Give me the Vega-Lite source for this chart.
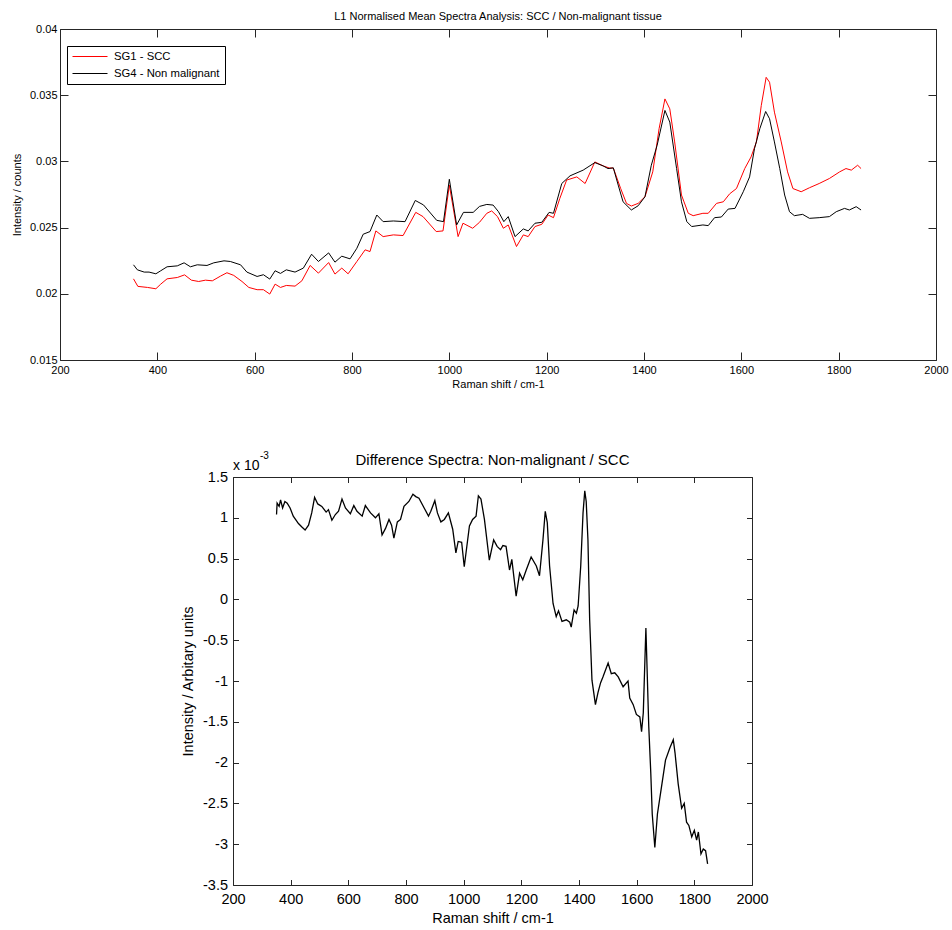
{
  "$schema": "https://vega.github.io/schema/vega-lite/v6.json",
  "background": "white",
  "padding": {"left": 11, "top": 11, "right": 0, "bottom": 0},
  "config": {
    "font": "Liberation Sans",
    "view": {"stroke": null},
    "axis": {"grid": false, "labelColor": "#000", "titleColor": "#000", "titleFontWeight": "normal", "domainColor": "#262626", "tickColor": "#262626", "tickWidth": 1, "labelFlush": false, "labelOverlap": false},
    "title": {"color": "#000", "fontWeight": "normal", "anchor": "middle"}
  },
  "datasets": {
    "spectra": [
      {"shift": 351, "series": "SG1 - SCC", "intensity": 0.02113},
      {"shift": 360, "series": "SG1 - SCC", "intensity": 0.02056},
      {"shift": 380, "series": "SG1 - SCC", "intensity": 0.02048},
      {"shift": 397, "series": "SG1 - SCC", "intensity": 0.02038},
      {"shift": 407, "series": "SG1 - SCC", "intensity": 0.02073},
      {"shift": 420, "series": "SG1 - SCC", "intensity": 0.02113},
      {"shift": 441, "series": "SG1 - SCC", "intensity": 0.02123},
      {"shift": 456, "series": "SG1 - SCC", "intensity": 0.02143},
      {"shift": 470, "series": "SG1 - SCC", "intensity": 0.02103},
      {"shift": 485, "series": "SG1 - SCC", "intensity": 0.02093},
      {"shift": 499, "series": "SG1 - SCC", "intensity": 0.02103},
      {"shift": 513, "series": "SG1 - SCC", "intensity": 0.02098},
      {"shift": 530, "series": "SG1 - SCC", "intensity": 0.02134},
      {"shift": 543, "series": "SG1 - SCC", "intensity": 0.02159},
      {"shift": 557, "series": "SG1 - SCC", "intensity": 0.02139},
      {"shift": 574, "series": "SG1 - SCC", "intensity": 0.02093},
      {"shift": 588, "series": "SG1 - SCC", "intensity": 0.02048},
      {"shift": 605, "series": "SG1 - SCC", "intensity": 0.02031},
      {"shift": 618, "series": "SG1 - SCC", "intensity": 0.02031},
      {"shift": 631, "series": "SG1 - SCC", "intensity": 0.01998},
      {"shift": 642, "series": "SG1 - SCC", "intensity": 0.02073},
      {"shift": 653, "series": "SG1 - SCC", "intensity": 0.02048},
      {"shift": 665, "series": "SG1 - SCC", "intensity": 0.02063},
      {"shift": 683, "series": "SG1 - SCC", "intensity": 0.02058},
      {"shift": 697, "series": "SG1 - SCC", "intensity": 0.02098},
      {"shift": 714, "series": "SG1 - SCC", "intensity": 0.02214},
      {"shift": 731, "series": "SG1 - SCC", "intensity": 0.02156},
      {"shift": 752, "series": "SG1 - SCC", "intensity": 0.02236},
      {"shift": 765, "series": "SG1 - SCC", "intensity": 0.02149},
      {"shift": 779, "series": "SG1 - SCC", "intensity": 0.02194},
      {"shift": 792, "series": "SG1 - SCC", "intensity": 0.02151},
      {"shift": 810, "series": "SG1 - SCC", "intensity": 0.02244},
      {"shift": 827, "series": "SG1 - SCC", "intensity": 0.02332},
      {"shift": 837, "series": "SG1 - SCC", "intensity": 0.02319},
      {"shift": 849, "series": "SG1 - SCC", "intensity": 0.02475},
      {"shift": 864, "series": "SG1 - SCC", "intensity": 0.02432},
      {"shift": 885, "series": "SG1 - SCC", "intensity": 0.02445},
      {"shift": 905, "series": "SG1 - SCC", "intensity": 0.0244},
      {"shift": 931, "series": "SG1 - SCC", "intensity": 0.02615},
      {"shift": 946, "series": "SG1 - SCC", "intensity": 0.02583},
      {"shift": 973, "series": "SG1 - SCC", "intensity": 0.0247},
      {"shift": 987, "series": "SG1 - SCC", "intensity": 0.02475},
      {"shift": 1000, "series": "SG1 - SCC", "intensity": 0.02821},
      {"shift": 1018, "series": "SG1 - SCC", "intensity": 0.02432},
      {"shift": 1028, "series": "SG1 - SCC", "intensity": 0.02533},
      {"shift": 1048, "series": "SG1 - SCC", "intensity": 0.02495},
      {"shift": 1062, "series": "SG1 - SCC", "intensity": 0.0254},
      {"shift": 1077, "series": "SG1 - SCC", "intensity": 0.02608},
      {"shift": 1087, "series": "SG1 - SCC", "intensity": 0.02626},
      {"shift": 1099, "series": "SG1 - SCC", "intensity": 0.02583},
      {"shift": 1111, "series": "SG1 - SCC", "intensity": 0.02495},
      {"shift": 1121, "series": "SG1 - SCC", "intensity": 0.0252},
      {"shift": 1138, "series": "SG1 - SCC", "intensity": 0.02357},
      {"shift": 1152, "series": "SG1 - SCC", "intensity": 0.02445},
      {"shift": 1162, "series": "SG1 - SCC", "intensity": 0.02432},
      {"shift": 1176, "series": "SG1 - SCC", "intensity": 0.02508},
      {"shift": 1190, "series": "SG1 - SCC", "intensity": 0.02525},
      {"shift": 1203, "series": "SG1 - SCC", "intensity": 0.02595},
      {"shift": 1214, "series": "SG1 - SCC", "intensity": 0.02575},
      {"shift": 1227, "series": "SG1 - SCC", "intensity": 0.0272},
      {"shift": 1241, "series": "SG1 - SCC", "intensity": 0.02859},
      {"shift": 1262, "series": "SG1 - SCC", "intensity": 0.02883},
      {"shift": 1279, "series": "SG1 - SCC", "intensity": 0.02833},
      {"shift": 1299, "series": "SG1 - SCC", "intensity": 0.02996},
      {"shift": 1316, "series": "SG1 - SCC", "intensity": 0.02966},
      {"shift": 1329, "series": "SG1 - SCC", "intensity": 0.0295},
      {"shift": 1337, "series": "SG1 - SCC", "intensity": 0.0295},
      {"shift": 1352, "series": "SG1 - SCC", "intensity": 0.02796},
      {"shift": 1364, "series": "SG1 - SCC", "intensity": 0.02683},
      {"shift": 1374, "series": "SG1 - SCC", "intensity": 0.02663},
      {"shift": 1388, "series": "SG1 - SCC", "intensity": 0.02683},
      {"shift": 1402, "series": "SG1 - SCC", "intensity": 0.02733},
      {"shift": 1418, "series": "SG1 - SCC", "intensity": 0.02921},
      {"shift": 1431, "series": "SG1 - SCC", "intensity": 0.03247},
      {"shift": 1443, "series": "SG1 - SCC", "intensity": 0.03472},
      {"shift": 1453, "series": "SG1 - SCC", "intensity": 0.03397},
      {"shift": 1463, "series": "SG1 - SCC", "intensity": 0.03147},
      {"shift": 1477, "series": "SG1 - SCC", "intensity": 0.02746},
      {"shift": 1491, "series": "SG1 - SCC", "intensity": 0.02608},
      {"shift": 1501, "series": "SG1 - SCC", "intensity": 0.0259},
      {"shift": 1521, "series": "SG1 - SCC", "intensity": 0.02608},
      {"shift": 1532, "series": "SG1 - SCC", "intensity": 0.02608},
      {"shift": 1549, "series": "SG1 - SCC", "intensity": 0.02683},
      {"shift": 1563, "series": "SG1 - SCC", "intensity": 0.02695},
      {"shift": 1576, "series": "SG1 - SCC", "intensity": 0.02755},
      {"shift": 1590, "series": "SG1 - SCC", "intensity": 0.02795},
      {"shift": 1607, "series": "SG1 - SCC", "intensity": 0.02946},
      {"shift": 1620, "series": "SG1 - SCC", "intensity": 0.03034},
      {"shift": 1631, "series": "SG1 - SCC", "intensity": 0.03147},
      {"shift": 1641, "series": "SG1 - SCC", "intensity": 0.03423},
      {"shift": 1651, "series": "SG1 - SCC", "intensity": 0.03635},
      {"shift": 1658, "series": "SG1 - SCC", "intensity": 0.03598},
      {"shift": 1668, "series": "SG1 - SCC", "intensity": 0.03372},
      {"shift": 1682, "series": "SG1 - SCC", "intensity": 0.03147},
      {"shift": 1695, "series": "SG1 - SCC", "intensity": 0.02921},
      {"shift": 1706, "series": "SG1 - SCC", "intensity": 0.02795},
      {"shift": 1723, "series": "SG1 - SCC", "intensity": 0.02771},
      {"shift": 1740, "series": "SG1 - SCC", "intensity": 0.02801},
      {"shift": 1760, "series": "SG1 - SCC", "intensity": 0.02833},
      {"shift": 1781, "series": "SG1 - SCC", "intensity": 0.02871},
      {"shift": 1802, "series": "SG1 - SCC", "intensity": 0.02921},
      {"shift": 1815, "series": "SG1 - SCC", "intensity": 0.02946},
      {"shift": 1826, "series": "SG1 - SCC", "intensity": 0.02934},
      {"shift": 1839, "series": "SG1 - SCC", "intensity": 0.02971},
      {"shift": 1846, "series": "SG1 - SCC", "intensity": 0.02946},
      {"shift": 351, "series": "SG4 - Non malignant", "intensity": 0.02219},
      {"shift": 359, "series": "SG4 - Non malignant", "intensity": 0.02181},
      {"shift": 373, "series": "SG4 - Non malignant", "intensity": 0.02164},
      {"shift": 383, "series": "SG4 - Non malignant", "intensity": 0.02164},
      {"shift": 397, "series": "SG4 - Non malignant", "intensity": 0.02151},
      {"shift": 407, "series": "SG4 - Non malignant", "intensity": 0.02174},
      {"shift": 420, "series": "SG4 - Non malignant", "intensity": 0.02204},
      {"shift": 441, "series": "SG4 - Non malignant", "intensity": 0.02211},
      {"shift": 455, "series": "SG4 - Non malignant", "intensity": 0.02234},
      {"shift": 468, "series": "SG4 - Non malignant", "intensity": 0.02204},
      {"shift": 482, "series": "SG4 - Non malignant", "intensity": 0.02219},
      {"shift": 502, "series": "SG4 - Non malignant", "intensity": 0.02214},
      {"shift": 516, "series": "SG4 - Non malignant", "intensity": 0.02234},
      {"shift": 537, "series": "SG4 - Non malignant", "intensity": 0.02249},
      {"shift": 550, "series": "SG4 - Non malignant", "intensity": 0.02244},
      {"shift": 571, "series": "SG4 - Non malignant", "intensity": 0.02219},
      {"shift": 584, "series": "SG4 - Non malignant", "intensity": 0.02164},
      {"shift": 605, "series": "SG4 - Non malignant", "intensity": 0.02131},
      {"shift": 618, "series": "SG4 - Non malignant", "intensity": 0.02144},
      {"shift": 631, "series": "SG4 - Non malignant", "intensity": 0.02111},
      {"shift": 642, "series": "SG4 - Non malignant", "intensity": 0.02174},
      {"shift": 653, "series": "SG4 - Non malignant", "intensity": 0.02154},
      {"shift": 665, "series": "SG4 - Non malignant", "intensity": 0.02181},
      {"shift": 683, "series": "SG4 - Non malignant", "intensity": 0.02164},
      {"shift": 700, "series": "SG4 - Non malignant", "intensity": 0.02194},
      {"shift": 717, "series": "SG4 - Non malignant", "intensity": 0.02299},
      {"shift": 731, "series": "SG4 - Non malignant", "intensity": 0.02244},
      {"shift": 752, "series": "SG4 - Non malignant", "intensity": 0.02309},
      {"shift": 765, "series": "SG4 - Non malignant", "intensity": 0.02239},
      {"shift": 779, "series": "SG4 - Non malignant", "intensity": 0.02284},
      {"shift": 796, "series": "SG4 - Non malignant", "intensity": 0.02264},
      {"shift": 810, "series": "SG4 - Non malignant", "intensity": 0.02344},
      {"shift": 823, "series": "SG4 - Non malignant", "intensity": 0.0245},
      {"shift": 837, "series": "SG4 - Non malignant", "intensity": 0.0247},
      {"shift": 851, "series": "SG4 - Non malignant", "intensity": 0.02595},
      {"shift": 864, "series": "SG4 - Non malignant", "intensity": 0.02545},
      {"shift": 885, "series": "SG4 - Non malignant", "intensity": 0.0255},
      {"shift": 909, "series": "SG4 - Non malignant", "intensity": 0.02545},
      {"shift": 930, "series": "SG4 - Non malignant", "intensity": 0.02705},
      {"shift": 947, "series": "SG4 - Non malignant", "intensity": 0.02671},
      {"shift": 974, "series": "SG4 - Non malignant", "intensity": 0.02555},
      {"shift": 988, "series": "SG4 - Non malignant", "intensity": 0.02545},
      {"shift": 1000, "series": "SG4 - Non malignant", "intensity": 0.02865},
      {"shift": 1015, "series": "SG4 - Non malignant", "intensity": 0.0252},
      {"shift": 1029, "series": "SG4 - Non malignant", "intensity": 0.02615},
      {"shift": 1049, "series": "SG4 - Non malignant", "intensity": 0.02615},
      {"shift": 1062, "series": "SG4 - Non malignant", "intensity": 0.0266},
      {"shift": 1077, "series": "SG4 - Non malignant", "intensity": 0.02675},
      {"shift": 1090, "series": "SG4 - Non malignant", "intensity": 0.0267},
      {"shift": 1101, "series": "SG4 - Non malignant", "intensity": 0.0262},
      {"shift": 1112, "series": "SG4 - Non malignant", "intensity": 0.02545},
      {"shift": 1121, "series": "SG4 - Non malignant", "intensity": 0.02583},
      {"shift": 1135, "series": "SG4 - Non malignant", "intensity": 0.02432},
      {"shift": 1152, "series": "SG4 - Non malignant", "intensity": 0.0249},
      {"shift": 1162, "series": "SG4 - Non malignant", "intensity": 0.02475},
      {"shift": 1176, "series": "SG4 - Non malignant", "intensity": 0.02533},
      {"shift": 1190, "series": "SG4 - Non malignant", "intensity": 0.0254},
      {"shift": 1205, "series": "SG4 - Non malignant", "intensity": 0.02615},
      {"shift": 1214, "series": "SG4 - Non malignant", "intensity": 0.02608},
      {"shift": 1231, "series": "SG4 - Non malignant", "intensity": 0.02833},
      {"shift": 1248, "series": "SG4 - Non malignant", "intensity": 0.02891},
      {"shift": 1275, "series": "SG4 - Non malignant", "intensity": 0.02934},
      {"shift": 1299, "series": "SG4 - Non malignant", "intensity": 0.02991},
      {"shift": 1316, "series": "SG4 - Non malignant", "intensity": 0.02966},
      {"shift": 1326, "series": "SG4 - Non malignant", "intensity": 0.02946},
      {"shift": 1337, "series": "SG4 - Non malignant", "intensity": 0.02951},
      {"shift": 1347, "series": "SG4 - Non malignant", "intensity": 0.02821},
      {"shift": 1357, "series": "SG4 - Non malignant", "intensity": 0.02695},
      {"shift": 1374, "series": "SG4 - Non malignant", "intensity": 0.02633},
      {"shift": 1388, "series": "SG4 - Non malignant", "intensity": 0.02665},
      {"shift": 1402, "series": "SG4 - Non malignant", "intensity": 0.02733},
      {"shift": 1415, "series": "SG4 - Non malignant", "intensity": 0.02971},
      {"shift": 1427, "series": "SG4 - Non malignant", "intensity": 0.03122},
      {"shift": 1443, "series": "SG4 - Non malignant", "intensity": 0.03385},
      {"shift": 1453, "series": "SG4 - Non malignant", "intensity": 0.03297},
      {"shift": 1467, "series": "SG4 - Non malignant", "intensity": 0.02946},
      {"shift": 1477, "series": "SG4 - Non malignant", "intensity": 0.02695},
      {"shift": 1488, "series": "SG4 - Non malignant", "intensity": 0.02545},
      {"shift": 1498, "series": "SG4 - Non malignant", "intensity": 0.02508},
      {"shift": 1521, "series": "SG4 - Non malignant", "intensity": 0.0252},
      {"shift": 1532, "series": "SG4 - Non malignant", "intensity": 0.02515},
      {"shift": 1545, "series": "SG4 - Non malignant", "intensity": 0.02575},
      {"shift": 1559, "series": "SG4 - Non malignant", "intensity": 0.0258},
      {"shift": 1573, "series": "SG4 - Non malignant", "intensity": 0.0264},
      {"shift": 1587, "series": "SG4 - Non malignant", "intensity": 0.02645},
      {"shift": 1604, "series": "SG4 - Non malignant", "intensity": 0.02771},
      {"shift": 1617, "series": "SG4 - Non malignant", "intensity": 0.02883},
      {"shift": 1627, "series": "SG4 - Non malignant", "intensity": 0.03096},
      {"shift": 1638, "series": "SG4 - Non malignant", "intensity": 0.03247},
      {"shift": 1650, "series": "SG4 - Non malignant", "intensity": 0.03377},
      {"shift": 1658, "series": "SG4 - Non malignant", "intensity": 0.03322},
      {"shift": 1668, "series": "SG4 - Non malignant", "intensity": 0.03147},
      {"shift": 1679, "series": "SG4 - Non malignant", "intensity": 0.02946},
      {"shift": 1689, "series": "SG4 - Non malignant", "intensity": 0.02746},
      {"shift": 1699, "series": "SG4 - Non malignant", "intensity": 0.0262},
      {"shift": 1709, "series": "SG4 - Non malignant", "intensity": 0.0259},
      {"shift": 1726, "series": "SG4 - Non malignant", "intensity": 0.026},
      {"shift": 1740, "series": "SG4 - Non malignant", "intensity": 0.0257},
      {"shift": 1760, "series": "SG4 - Non malignant", "intensity": 0.02575},
      {"shift": 1781, "series": "SG4 - Non malignant", "intensity": 0.02583},
      {"shift": 1795, "series": "SG4 - Non malignant", "intensity": 0.0262},
      {"shift": 1812, "series": "SG4 - Non malignant", "intensity": 0.02645},
      {"shift": 1822, "series": "SG4 - Non malignant", "intensity": 0.02633},
      {"shift": 1836, "series": "SG4 - Non malignant", "intensity": 0.02658},
      {"shift": 1846, "series": "SG4 - Non malignant", "intensity": 0.02633}
    ],
    "difference": [
      {"shift": 351, "diff": 1.04}, {"shift": 353, "diff": 1.18}, {"shift": 360, "diff": 1.14},
      {"shift": 365, "diff": 1.22}, {"shift": 372, "diff": 1.12}, {"shift": 380, "diff": 1.2},
      {"shift": 388, "diff": 1.18}, {"shift": 398, "diff": 1.12}, {"shift": 409, "diff": 1.02},
      {"shift": 427, "diff": 0.93}, {"shift": 438, "diff": 0.89}, {"shift": 450, "diff": 0.85},
      {"shift": 462, "diff": 0.91}, {"shift": 473, "diff": 1.06}, {"shift": 483, "diff": 1.25},
      {"shift": 494, "diff": 1.17}, {"shift": 508, "diff": 1.14}, {"shift": 523, "diff": 1.07},
      {"shift": 531, "diff": 1.1}, {"shift": 543, "diff": 0.97}, {"shift": 555, "diff": 1.04},
      {"shift": 566, "diff": 1.08}, {"shift": 578, "diff": 1.23}, {"shift": 590, "diff": 1.12},
      {"shift": 607, "diff": 1.05}, {"shift": 619, "diff": 1.15}, {"shift": 630, "diff": 1.08},
      {"shift": 648, "diff": 1.02}, {"shift": 659, "diff": 1.15}, {"shift": 677, "diff": 1.06},
      {"shift": 694, "diff": 1.0}, {"shift": 706, "diff": 1.05}, {"shift": 717, "diff": 0.79},
      {"shift": 729, "diff": 0.87}, {"shift": 741, "diff": 0.98}, {"shift": 750, "diff": 0.91},
      {"shift": 758, "diff": 0.75}, {"shift": 770, "diff": 0.95}, {"shift": 781, "diff": 0.98},
      {"shift": 793, "diff": 1.14}, {"shift": 810, "diff": 1.2}, {"shift": 824, "diff": 1.29},
      {"shift": 834, "diff": 1.26}, {"shift": 845, "diff": 1.24}, {"shift": 863, "diff": 1.12},
      {"shift": 878, "diff": 1.02}, {"shift": 886, "diff": 1.08}, {"shift": 900, "diff": 1.21},
      {"shift": 909, "diff": 1.06}, {"shift": 921, "diff": 0.95}, {"shift": 933, "diff": 0.98},
      {"shift": 947, "diff": 1.06}, {"shift": 962, "diff": 0.86}, {"shift": 973, "diff": 0.57},
      {"shift": 981, "diff": 0.71}, {"shift": 993, "diff": 0.7}, {"shift": 1002, "diff": 0.4},
      {"shift": 1020, "diff": 0.9}, {"shift": 1031, "diff": 0.98}, {"shift": 1043, "diff": 1.02},
      {"shift": 1051, "diff": 1.27}, {"shift": 1060, "diff": 1.23}, {"shift": 1072, "diff": 0.98},
      {"shift": 1089, "diff": 0.48}, {"shift": 1104, "diff": 0.73}, {"shift": 1116, "diff": 0.65},
      {"shift": 1128, "diff": 0.61}, {"shift": 1136, "diff": 0.66}, {"shift": 1147, "diff": 0.65},
      {"shift": 1159, "diff": 0.36}, {"shift": 1167, "diff": 0.49}, {"shift": 1182, "diff": 0.04},
      {"shift": 1194, "diff": 0.32}, {"shift": 1205, "diff": 0.24}, {"shift": 1217, "diff": 0.36},
      {"shift": 1234, "diff": 0.52}, {"shift": 1252, "diff": 0.41}, {"shift": 1263, "diff": 0.29},
      {"shift": 1275, "diff": 0.73}, {"shift": 1283, "diff": 1.08}, {"shift": 1290, "diff": 0.94},
      {"shift": 1298, "diff": 0.41}, {"shift": 1310, "diff": -0.05}, {"shift": 1321, "diff": -0.21},
      {"shift": 1329, "diff": -0.14}, {"shift": 1341, "diff": -0.27}, {"shift": 1356, "diff": -0.25},
      {"shift": 1368, "diff": -0.28}, {"shift": 1373, "diff": -0.34}, {"shift": 1383, "diff": -0.13},
      {"shift": 1391, "diff": -0.17}, {"shift": 1397, "diff": -0.08}, {"shift": 1406, "diff": 0.41},
      {"shift": 1414, "diff": 1.06}, {"shift": 1420, "diff": 1.33}, {"shift": 1425, "diff": 1.2},
      {"shift": 1431, "diff": 0.73}, {"shift": 1437, "diff": -0.25}, {"shift": 1445, "diff": -0.99},
      {"shift": 1457, "diff": -1.29}, {"shift": 1466, "diff": -1.14}, {"shift": 1475, "diff": -1.02},
      {"shift": 1483, "diff": -0.95}, {"shift": 1501, "diff": -0.78}, {"shift": 1512, "diff": -0.91},
      {"shift": 1524, "diff": -0.9}, {"shift": 1536, "diff": -0.95}, {"shift": 1553, "diff": -1.07},
      {"shift": 1570, "diff": -1.0}, {"shift": 1576, "diff": -1.21}, {"shift": 1588, "diff": -1.29},
      {"shift": 1599, "diff": -1.41}, {"shift": 1611, "diff": -1.44}, {"shift": 1617, "diff": -1.62},
      {"shift": 1623, "diff": -1.39}, {"shift": 1632, "diff": -0.35}, {"shift": 1642, "diff": -1.56},
      {"shift": 1649, "diff": -2.13}, {"shift": 1654, "diff": -2.63}, {"shift": 1663, "diff": -3.04},
      {"shift": 1672, "diff": -2.63}, {"shift": 1686, "diff": -2.3}, {"shift": 1700, "diff": -1.97},
      {"shift": 1715, "diff": -1.82}, {"shift": 1727, "diff": -1.72}, {"shift": 1733, "diff": -1.88},
      {"shift": 1744, "diff": -2.26}, {"shift": 1756, "diff": -2.56}, {"shift": 1765, "diff": -2.5},
      {"shift": 1773, "diff": -2.73}, {"shift": 1781, "diff": -2.77}, {"shift": 1791, "diff": -2.91},
      {"shift": 1800, "diff": -2.83}, {"shift": 1808, "diff": -2.95}, {"shift": 1814, "diff": -2.85},
      {"shift": 1823, "diff": -3.12}, {"shift": 1831, "diff": -3.06}, {"shift": 1839, "diff": -3.08},
      {"shift": 1846, "diff": -3.24}
    ]
  },
  "vconcat": [
    {
      "width": 876,
      "height": 331,
      "title": {"text": "L1 Normalised Mean Spectra Analysis: SCC / Non-malignant tissue", "fontSize": 11, "offset": 1},
      "data": {"name": "spectra"},
      "layer": [
        {
          "mark": {"type": "line", "strokeWidth": 1},
          "encoding": {
            "x": {"field": "shift", "type": "quantitative",
              "scale": {"domain": [200, 2000], "nice": false, "zero": false},
              "axis": {"orient": "bottom", "title": "Raman shift / cm-1", "values": [200, 400, 600, 800, 1000, 1200, 1400, 1600, 1800, 2000],
                "labelExpr": "'' + datum.value", "tickSize": -8, "labelPadding": 12, "labelFontSize": 11, "titleFontSize": 11, "titlePadding": 3}},
            "y": {"field": "intensity", "type": "quantitative",
              "scale": {"domain": [0.015, 0.04], "nice": false, "zero": false},
              "axis": {"orient": "left", "title": "Intensity / counts", "values": [0.015, 0.02, 0.025, 0.03, 0.035, 0.04],
                "labelExpr": "'' + datum.value", "tickSize": -8, "labelPadding": 11, "labelFontSize": 11, "titleFontSize": 11, "titlePadding": 7}},
            "color": {"field": "series", "type": "nominal",
              "scale": {"domain": ["SG1 - SCC", "SG4 - Non malignant"], "range": ["#ff0000", "#000000"]},
              "legend": {"orient": "none", "legendX": 7, "legendY": 17, "title": null, "strokeColor": "#000", "fillColor": "#fff",
                "padding": 5, "symbolType": "stroke", "symbolSize": 1225, "symbolStrokeWidth": 1, "clipHeight": 11,
                "labelFontSize": 11.3, "labelColor": "#000", "labelOffset": 6, "rowPadding": 5}}
          }
        },
        {
          "data": {"values": [{}]},
          "mark": {"type": "point", "opacity": 0},
          "encoding": {
            "x": {"datum": 200, "type": "quantitative",
              "axis": {"orient": "top", "labels": false, "title": null, "values": [200, 400, 600, 800, 1000, 1200, 1400, 1600, 1800, 2000], "tickSize": -8}},
            "y": {"datum": 0.015, "type": "quantitative",
              "axis": {"orient": "right", "labels": false, "title": null, "values": [0.015, 0.02, 0.025, 0.03, 0.035, 0.04], "tickSize": -8}}
          }
        }
      ],
      "resolve": {"axis": {"x": "independent", "y": "independent"}}
    },
    {
      "spacing": 0,
      "hconcat": [
        {
          "width": 120,
          "height": 10,
          "data": {"values": []},
          "mark": {"type": "point", "opacity": 0},
          "encoding": {}
        },
        {
          "width": 519,
          "height": 408,
          "title": {"text": "Difference Spectra: Non-malignant / SCC", "fontSize": 15, "offset": -17},
          "data": {"name": "difference"},
          "layer": [
            {
              "mark": {"type": "line", "color": "#000", "strokeWidth": 1.3},
              "encoding": {
                "x": {"field": "shift", "type": "quantitative",
                  "scale": {"domain": [200, 2000], "nice": false, "zero": false},
                  "axis": {"orient": "bottom", "title": "Raman shift / cm-1", "values": [200, 400, 600, 800, 1000, 1200, 1400, 1600, 1800, 2000],
                    "labelExpr": "'' + datum.value", "tickSize": -5.5, "labelPadding": 13, "labelFontSize": 14.5, "titleFontSize": 14.5, "titlePadding": 5}},
                "y": {"field": "diff", "type": "quantitative",
                  "scale": {"domain": [-3.5, 1.5], "nice": false, "zero": false},
                  "axis": {"orient": "left", "title": "Intensity / Arbitary units", "values": [-3.5, -3, -2.5, -2, -1.5, -1, -0.5, 0, 0.5, 1, 1.5],
                    "labelExpr": "'' + datum.value", "tickSize": -5.5, "labelPadding": 11, "labelFontSize": 14.5, "titleFontSize": 14.5, "titlePadding": 7}}
              }
            },
            {
              "data": {"values": [{}]},
              "mark": {"type": "point", "opacity": 0},
              "encoding": {
                "x": {"datum": 200, "type": "quantitative",
                  "axis": {"orient": "top", "labels": false, "title": null, "values": [200, 400, 600, 800, 1000, 1200, 1400, 1600, 1800, 2000], "tickSize": -5.5}},
                "y": {"datum": -3.5, "type": "quantitative",
                  "axis": {"orient": "right", "labels": false, "title": null, "values": [-3.5, -3, -2.5, -2, -1.5, -1, -0.5, 0, 0.5, 1, 1.5], "tickSize": -5.5}}
              }
            },
            {
              "data": {"values": [{}]},
              "mark": {"type": "text", "text": "x 10", "align": "left", "baseline": "alphabetic", "dy": -7, "fontSize": 14, "color": "#000"},
              "encoding": {
                "x": {"datum": 200, "type": "quantitative", "axis": null},
                "y": {"datum": 1.5, "type": "quantitative", "axis": null}
              }
            },
            {
              "data": {"values": [{}]},
              "mark": {"type": "text", "text": "-3", "align": "left", "baseline": "alphabetic", "dx": 27, "dy": -18, "fontSize": 10, "color": "#000"},
              "encoding": {
                "x": {"datum": 200, "type": "quantitative", "axis": null},
                "y": {"datum": 1.5, "type": "quantitative", "axis": null}
              }
            }
          ],
          "resolve": {"axis": {"x": "independent", "y": "independent"}}
        }
      ]
    }
  ],
  "spacing": 62
}
